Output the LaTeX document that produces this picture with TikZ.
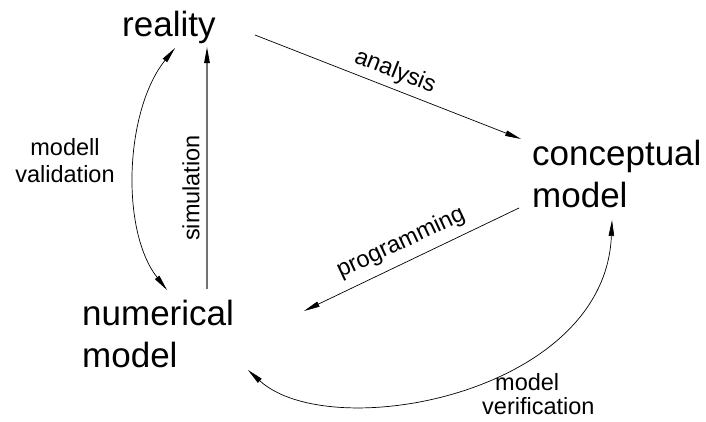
\documentclass[tikz,border=0pt]{standalone}
\usepackage{fontspec}
\setmainfont{Liberation Sans}
\usetikzlibrary{arrows.meta}
\begin{document}
\begin{tikzpicture}[x=1pt,y=-1pt,
  big/.style={font=\fontsize{35}{42}\selectfont, inner sep=0pt},
  small/.style={font=\fontsize{23.5}{27}\selectfont, inner sep=0pt},
  tip/.style={-{Triangle[length=16pt,width=5.5pt,color=black]}},
  conn/.style={line width=0.7pt, tip},
  bothconn/.style={line width=0.7pt, {Triangle[length=16pt,width=5.5pt]}-{Triangle[length=16pt,width=5.5pt]}}]
\useasboundingbox (0,0) rectangle (706,421);
% main nodes
\node[big, anchor=base west] (reality) at (122,36) {reality};
\node[big, anchor=base west] (concept) at (532,165) {\begin{tabular}[t]{@{}l@{}}conceptual\\model\end{tabular}};
\node[big, anchor=base west] (numerical) at (82,325) {\begin{tabular}[t]{@{}l@{}}numerical\\model\end{tabular}};
% labels
\node[small, anchor=base] (lvalid) at (65,155) {\begin{tabular}[t]{@{}c@{}}modell\\validation\end{tabular}};
\node[small, anchor=base west] (lverif) at (482,390) {\fontsize{23.5}{24}\selectfont\begin{tabular}[t]{@{}l@{}}\hspace*{13pt}model\\verification\end{tabular}};
\node[small, rotate=-21.5] (lanalysis) at (395,72) {analysis};
\node[small, rotate=25.1] (lprog) at (401,243) {programming};
\node[small, rotate=90] (lsim) at (191,188) {simulation};
% connector ends
\coordinate (a1) at (255,35);
\coordinate (a2) at (521,139);
\coordinate (p1) at (519,208);
\coordinate (p2) at (304,311);
\coordinate (s1) at (207,289);
\coordinate (s2) at (207,47);
\coordinate (v1) at (175,48);
\coordinate (v2) at (167,290);
\coordinate (f1) at (248,370);
\coordinate (f2) at (612,220);
% connectors
\draw[conn] (a1) -- (a2);
\draw[conn] (p1) -- (p2);
\draw[conn, draw=black!55, line width=1.1pt] (s1) -- (s2);
\draw[bothconn] (v1) .. controls (125,110) and (120,230) .. (v2);
\draw[bothconn] (f1) .. controls (330,445) and (605,395) .. (f2);
\end{tikzpicture}
\end{document}
